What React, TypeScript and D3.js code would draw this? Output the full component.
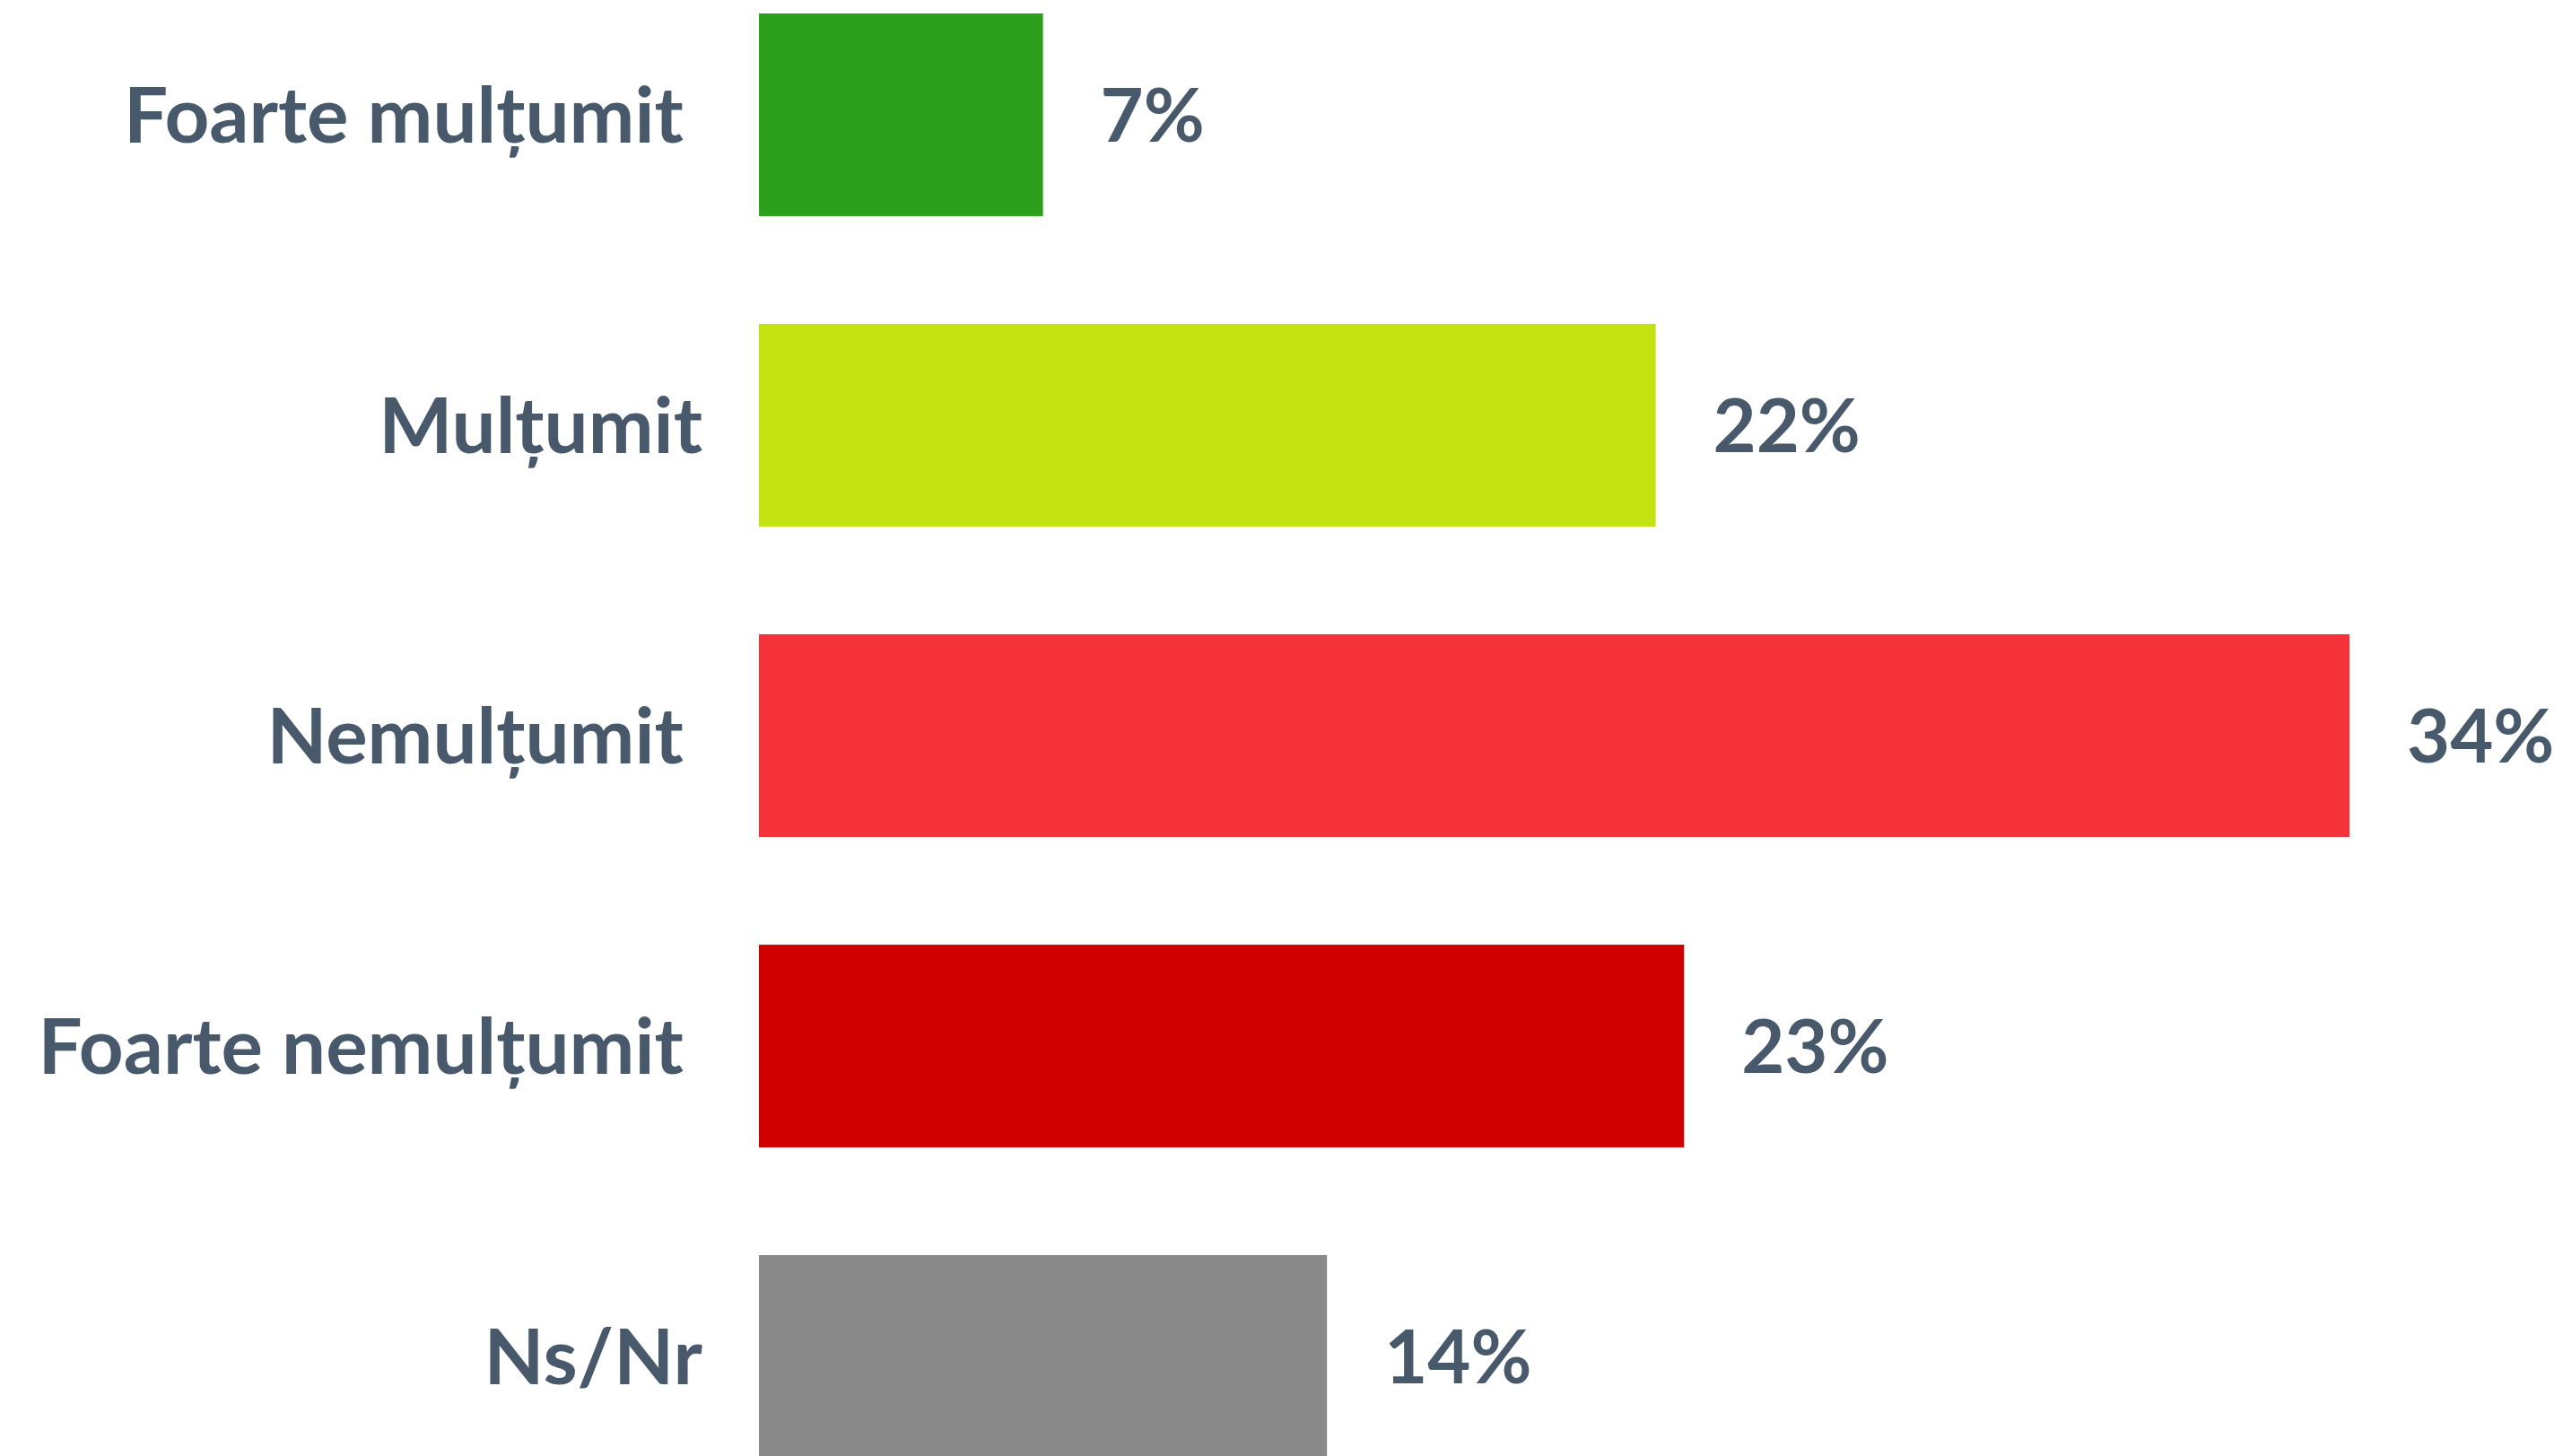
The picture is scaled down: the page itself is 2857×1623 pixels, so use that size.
import React from 'react';
import * as d3 from 'd3';

// categories, top to bottom (trailing spaces are in the source labels)
const categories = ['Foarte mulțumit ', 'Mulțumit', 'Nemulțumit ', 'Foarte nemulțumit ', 'Ns/Nr'];
// bar lengths as drawn in the picture (percent units)
const barValues = [7, 22.1, 39.2, 22.8, 14];
// labels printed next to the bars
const valueLabels = ['7%', '22%', '34%', '23%', '14%'];
const colors = ['#2ca01c', '#c3e20f', '#f5313a', '#d00000', '#8a8a8a'];

const width = 2857;
const height = 1623;
const textColor = '#48596b';
const font = "Lato, 'Open Sans', 'DejaVu Sans', sans-serif";

const App = () => {
  const x = d3.scaleLinear().domain([0, 39.2]).range([846, 2619]);
  const y = d3.scaleBand<string>()
    .domain(categories)
    .range([15, 1625])
    .paddingInner(0.347)
    .paddingOuter(0);

  return (
    <svg
      width={width}
      height={height}
      viewBox={`0 0 ${width} ${height}`}
      style={{ position: 'absolute', left: 0, top: 0, background: '#fff' }}
    >
      {categories.map((c, i) => {
        const yc = y(c)! + y.bandwidth() / 2;
        return (
          <g key={c}>
            <rect
              x={x(0)}
              y={y(c)}
              width={x(barValues[i]) - x(0)}
              height={y.bandwidth()}
              fill={colors[i]}
            />
            <text
              x={783}
              y={yc}
              dy="0.36em"
              textAnchor="end"
              fontFamily={font}
              fontWeight="bold"
              fontSize={87}
              fill={textColor}
              style={{ whiteSpace: 'pre' }}
            >
              {c}
            </text>
            <text
              x={x(barValues[i]) + 64}
              y={yc}
              dy="0.36em"
              fontFamily={font}
              fontWeight="bold"
              fontSize={83}
              fill={textColor}
            >
              {valueLabels[i]}
            </text>
          </g>
        );
      })}
    </svg>
  );
};

export default App;
